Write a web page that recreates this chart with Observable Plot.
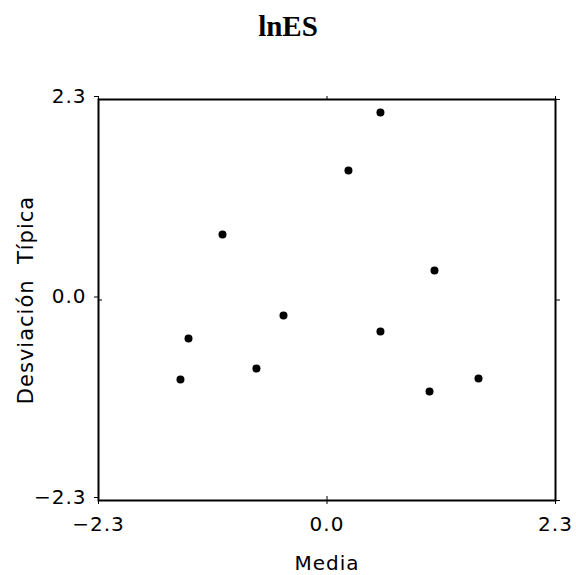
<!DOCTYPE html>
<html>
<head>
<meta charset="utf-8">
<script src="https://cdn.jsdelivr.net/npm/d3@7"></script>
<script src="https://cdn.jsdelivr.net/npm/@observablehq/plot@0.6"></script>
<style>
  html, body { margin: 0; padding: 0; background: #fff; }
  #title { height: 64px; line-height: 52px; text-align: center; font-family: "Liberation Serif", serif; font-weight: bold; font-size: 29px; color: #000; }
</style>
</head>
<body>
<div id="title">lnES</div>
<div id="chart"></div>
<script>
const media = [0.538, 0.216, -1.052, 1.082, -0.438, -1.394, 0.538, -0.710, -1.475, 1.525, 1.032];
const desviacion = [2.151, 1.486, 0.751, 0.338, -0.178, -0.442, -0.361, -0.786, -0.912, -0.901, -1.050];
const tickValues = [-2.3, 0.0, 2.3];
const xLabel = "Media";
const yLabel = "Desviación\u00a0\u00a0Típica";

const data = media.map((m, i) => ({media: m, sd: desviacion[i]}));
const noText = () => "";

const plot = Plot.plot({
  width: 576,
  height: 511,
  marginLeft: 98,
  marginRight: 21,
  marginTop: 35,
  marginBottom: 75,
  style: {fontFamily: "DejaVu Sans, sans-serif", fontSize: "20px", color: "#000", background: "#fff", letterSpacing: "1px", overflow: "visible"},
  x: {domain: [-2.3, 2.3]},
  y: {domain: [-2.3, 2.3]},
  marks: [
    Plot.frame({stroke: "#000", strokeWidth: 2}),
    Plot.axisX({ticks: tickValues, tickFormat: d3.format(".1f"), tickSize: 4, tickPadding: 12, fontSize: 20,
      label: xLabel, labelAnchor: "center", labelArrow: "none", labelOffset: 69}),
    Plot.axisX({ticks: tickValues, tickSize: -4, tickFormat: noText, label: null}),
    Plot.axisX({anchor: "top", ticks: tickValues, tickSize: 4, tickFormat: noText, label: null}),
    Plot.axisY({ticks: tickValues, tickFormat: d3.format(".1f"), tickSize: 4, tickPadding: 8, fontSize: 20, dy: -3, label: null}),
    Plot.axisY({ticks: [], fontSize: 21, label: yLabel, labelAnchor: "center", labelArrow: "none", labelOffset: 80}),
    Plot.axisY({ticks: tickValues, tickSize: -4, tickFormat: noText, label: null}),
    Plot.axisY({anchor: "right", ticks: tickValues, tickSize: 4, tickFormat: noText, label: null}),
    Plot.dot(data, {x: "media", y: "sd", r: 4, fill: "#000", stroke: null})
  ]
});
document.getElementById("chart").appendChild(plot);
</script>
</body>
</html>
